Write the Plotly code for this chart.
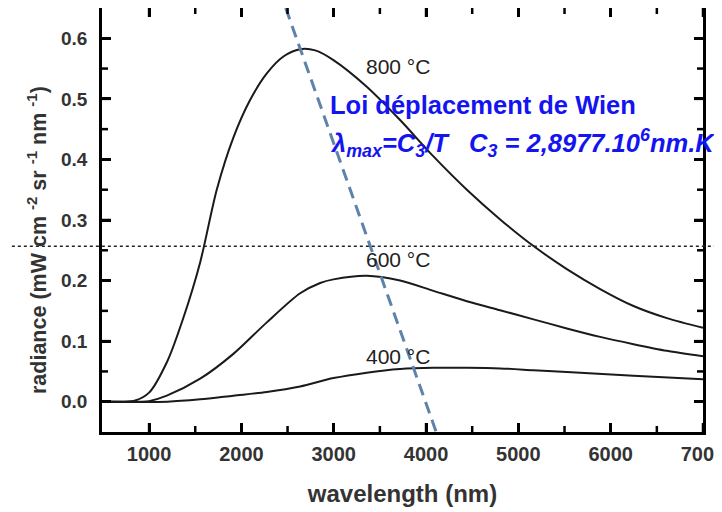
import plotly.graph_objects as go

# ---- data ----
wavelength_800 = [490, 700, 850, 1000, 1195, 1368, 1553, 1733, 1913, 2094, 2275, 2455, 2636, 2800, 2997, 3358, 3719, 4080, 4442, 4803, 5164, 5525, 5886, 6247, 6609, 7000]
radiance_800 = [0, 0, 0.002, 0.015, 0.066, 0.137, 0.230, 0.350, 0.436, 0.498, 0.542, 0.570, 0.582, 0.580, 0.564, 0.520, 0.465, 0.405, 0.350, 0.301, 0.257, 0.219, 0.186, 0.158, 0.138, 0.122]

wavelength_600 = [490, 900, 1000, 1192, 1553, 1913, 2275, 2636, 2853, 2997, 3358, 3719, 4080, 4442, 4803, 5164, 5525, 5886, 6247, 6609, 7000]
radiance_600 = [0, 0, 0.001, 0.010, 0.038, 0.079, 0.131, 0.179, 0.196, 0.202, 0.208, 0.200, 0.183, 0.166, 0.151, 0.136, 0.121, 0.107, 0.095, 0.084, 0.075]

wavelength_400 = [490, 1200, 1553, 1913, 2275, 2636, 2997, 3358, 3719, 4080, 4442, 4803, 5164, 5525, 6247, 7000]
radiance_400 = [0, 0, 0.004, 0.010, 0.016, 0.025, 0.039, 0.048, 0.054, 0.056, 0.056, 0.055, 0.052, 0.049, 0.043, 0.037]

wien_wavelength = [2480, 4110]
wien_radiance = [0.65, -0.05]

threshold_radiance = 0.2566

curve_labels = ["800 °C", "600 °C", "400 °C"]
label_wavelength = [3698, 3698, 3698]
label_radiance = [0.554, 0.235, 0.074]

x_range = [490, 7000]
y_range = [-0.05, 0.65]
x_ticks = [1000, 2000, 3000, 4000, 5000, 6000, 7000]
x_minor_ticks = [1500, 2500, 3500, 4500, 5500, 6500]
y_ticks = [0.0, 0.1, 0.2, 0.3, 0.4, 0.5, 0.6]
y_minor_ticks = [0.05, 0.15, 0.25, 0.35, 0.45, 0.55]

FONT = "Liberation Sans"
GREY = "#333333"
MAJOR_PX, MINOR_PX = 9, 6

fig = go.Figure()

for xs, ys in [(wavelength_800, radiance_800), (wavelength_600, radiance_600), (wavelength_400, radiance_400)]:
    fig.add_trace(go.Scatter(x=xs, y=ys, mode="lines",
                             line=dict(color="#1a1a1a", width=2, shape="spline", smoothing=0.8),
                             showlegend=False, hoverinfo="skip"))

fig.add_trace(go.Scatter(x=wien_wavelength, y=wien_radiance, mode="lines",
                         line=dict(color="#5f82ab", width=3, dash="12px,7px"),
                         showlegend=False, hoverinfo="skip"))

# tick marks on all four sides, pointing inside the frame (pixel-sized shapes)
tick_line = dict(color="black", width=2.5)
for ticks, px in [(x_ticks, MAJOR_PX), (x_minor_ticks, MINOR_PX)]:
    for v in ticks:
        fig.add_shape(type="line", xref="x", yref="paper", ysizemode="pixel", yanchor=0,
                      x0=v, x1=v, y0=0, y1=px, line=tick_line, layer="above")
        fig.add_shape(type="line", xref="x", yref="paper", ysizemode="pixel", yanchor=1,
                      x0=v, x1=v, y0=0, y1=-px, line=tick_line, layer="above")
for ticks, px in [(y_ticks, MAJOR_PX), (y_minor_ticks, MINOR_PX)]:
    for v in ticks:
        fig.add_shape(type="line", xref="paper", yref="y", xsizemode="pixel", xanchor=0,
                      x0=0, x1=px, y0=v, y1=v, line=tick_line, layer="above")
        fig.add_shape(type="line", xref="paper", yref="y", xsizemode="pixel", xanchor=1,
                      x0=0, x1=-px, y0=v, y1=v, line=tick_line, layer="above")

for t, lx, ly in zip(curve_labels, label_wavelength, label_radiance):
    fig.add_annotation(x=lx, y=ly, text=t, showarrow=False,
                       font=dict(family=FONT, size=21, color="#222222"))

# dotted horizontal line spanning the whole picture width
fig.add_shape(type="line", xref="paper", yref="y", x0=-0.15, x1=1.04,
              y0=threshold_radiance, y1=threshold_radiance,
              line=dict(color="#222222", width=1.5, dash="dot"))

fig.add_annotation(xref="paper", yref="paper", x=0.376, y=0.771, xanchor="left", yanchor="middle",
                   text="<b>Loi déplacement de Wien</b>", showarrow=False,
                   font=dict(family=FONT, size=25.5, color="#1414f0"))
fig.add_annotation(xref="paper", yref="paper", x=0.376, y=0.682, xanchor="left", yanchor="middle",
                   text="<b><i>λ<sub>max</sub>=C<sub>3</sub>/T&nbsp;&nbsp;&nbsp;C<sub>3</sub> = 2,8977.10<sup>6</sup>nm.K</i></b>",
                   showarrow=False,
                   font=dict(family=FONT, size=25.5, color="#1414f0"))

fig.add_annotation(xref="paper", yref="paper", x=-0.108, y=0.453, xanchor="center", yanchor="middle",
                   textangle=-90, showarrow=False,
                   text="<b>radiance (mW cm <sup>-2</sup> sr <sup>-1</sup> nm <sup>-1</sup>)</b>",
                   font=dict(family=FONT, size=21.5, color=GREY))

axis_common = dict(showline=True, linecolor="black", linewidth=2.5, mirror="ticks",
                   ticks="inside", ticklen=MAJOR_PX, tickwidth=2.5, tickcolor="black",
                   showgrid=False, zeroline=False, ticklabeloverflow="allow")

fig.update_xaxes(range=x_range, tickvals=x_ticks, ticktext=[f"<b>{v}</b>" for v in x_ticks],
                 tickfont=dict(family=FONT, size=20, color=GREY), ticklabelstandoff=2,
                 title=dict(text="<b>wavelength (nm)</b>", font=dict(family=FONT, size=24, color=GREY), standoff=22),
                 **axis_common)
fig.update_yaxes(range=y_range, tickvals=y_ticks, ticktext=[f"<b>{v:.1f}</b>" for v in y_ticks],
                 tickfont=dict(family=FONT, size=19, color=GREY), ticklabelstandoff=8,
                 **axis_common)

fig.update_layout(width=714, height=504, margin=dict(l=94, r=19, t=0, b=80, autoexpand=False),
                  plot_bgcolor="white", paper_bgcolor="white")

fig.write_html("out.html")
